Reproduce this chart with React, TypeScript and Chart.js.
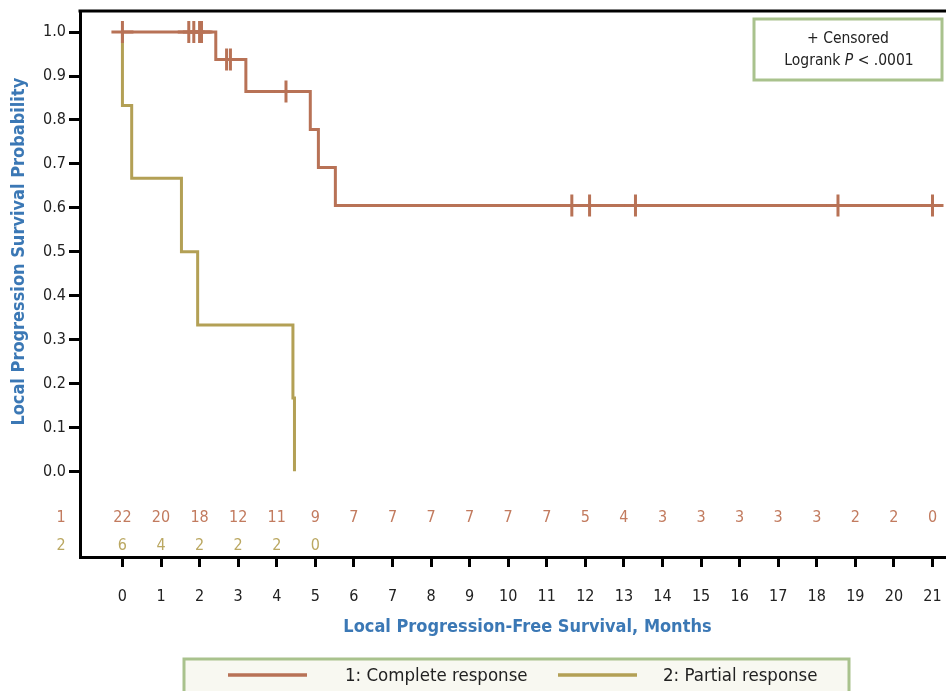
import React, { useEffect, useRef } from "react";
import { Chart, registerables } from "chart.js";

Chart.register(...registerables);

const months = [0, 1, 2, 3, 4, 5, 6, 7, 8, 9, 10, 11, 12, 13, 14, 15, 16, 17, 18, 19, 20, 21];
const yTickValues = [0, 0.1, 0.2, 0.3, 0.4, 0.5, 0.6, 0.7, 0.8, 0.9, 1.0];

const riskComplete = [22, 20, 18, 12, 11, 9, 7, 7, 7, 7, 7, 7, 5, 4, 3, 3, 3, 3, 3, 2, 2, 0];
const riskPartial = [6, 4, 2, 2, 2, 0];

const completeTimes = [0, 2.42, 3.2, 4.87, 5.08, 5.52, 21];
const completeSurv = [1, 0.9375, 0.865, 0.778, 0.692, 0.605, 0.605];

const partialTimes = [0, 0, 0.24, 1.53, 1.95, 4.42, 4.46];
const partialSurv = [1, 0.833, 0.667, 0.5, 0.333, 0.167, 0];

const censorCompleteTimes = [0, 1.72, 1.85, 2.0, 2.05, 2.7, 2.8, 4.24, 11.65, 12.11, 13.3, 18.55, 21];
const censorCompleteSurv = [1, 1, 1, 1, 1, 0.9375, 0.9375, 0.865, 0.605, 0.605, 0.605, 0.605, 0.605];

const seriesNames = ["1: Complete response", "2: Partial response"];
const xTitle = "Local Progression-Free Survival, Months";
const yTitle = "Local Progression Survival Probability";

const CR = "#b87256";
const PR = "#b3a055";
const CR_TEXT = "#c27b5f";
const PR_TEXT = "#bba862";
const BLUE = "#3b78b5";
const GREEN = "#a9c28d";
const FONT = '"DejaVu Sans Condensed", "DejaVu Sans", sans-serif';

const overlayPlugin = {
  id: "overlay",
  afterDraw(chart: any) {
    const { ctx, chartArea, scales } = chart;
    const xs = scales.x;
    const ys = scales.y;
    ctx.save();

    // top frame line
    ctx.strokeStyle = "#000";
    ctx.lineWidth = 3;
    ctx.beginPath();
    ctx.moveTo(chartArea.left - 1.5, chartArea.top);
    ctx.lineTo(chartArea.right, chartArea.top);
    ctx.stroke();

    // number at risk table
    ctx.font = `16px ${FONT}`;
    ctx.textAlign = "center";
    ctx.textBaseline = "middle";
    const yRow1 = 518;
    const yRow2 = 546;
    ctx.fillStyle = CR_TEXT;
    ctx.fillText("1", 61, yRow1);
    riskComplete.forEach((n, i) => {
      ctx.fillText(String(n), xs.getPixelForValue(months[i]), yRow1);
    });
    ctx.fillStyle = PR_TEXT;
    ctx.fillText("2", 61, yRow2);
    riskPartial.forEach((n, i) => {
      ctx.fillText(String(n), xs.getPixelForValue(months[i]), yRow2);
    });

    // axis titles
    ctx.fillStyle = BLUE;
    ctx.font = `bold 18px ${FONT}`;
    const xMid = (xs.getPixelForValue(months[0]) + xs.getPixelForValue(months[months.length - 1])) / 2;
    ctx.fillText(xTitle, xMid, 627);
    const yMid = (ys.getPixelForValue(0) + ys.getPixelForValue(1)) / 2;
    ctx.save();
    ctx.translate(19, yMid);
    ctx.rotate(-Math.PI / 2);
    ctx.fillText(yTitle, 0, 0);
    ctx.restore();

    // censored / logrank box
    ctx.fillStyle = "#ffffff";
    ctx.fillRect(754, 19, 188, 61);
    ctx.strokeStyle = GREEN;
    ctx.lineWidth = 3;
    ctx.strokeRect(754, 19, 188, 61);
    ctx.fillStyle = "#222";
    const bf = 15.5;
    ctx.font = `${bf}px ${FONT}`;
    ctx.textAlign = "center";
    ctx.fillText("+ Censored", 848, 39);
    const p1 = "Logrank ";
    const p2 = "P";
    const p3 = " < .0001";
    const w1 = ctx.measureText(p1).width;
    const w3 = ctx.measureText(p3).width;
    ctx.font = `italic ${bf}px ${FONT}`;
    const w2 = ctx.measureText(p2).width;
    const total = w1 + w2 + w3;
    let sx = 849 - total / 2;
    ctx.textAlign = "left";
    ctx.font = `${bf}px ${FONT}`;
    ctx.fillText(p1, sx, 61);
    sx += w1;
    ctx.font = `italic ${bf}px ${FONT}`;
    ctx.fillText(p2, sx, 61);
    sx += w2;
    ctx.font = `${bf}px ${FONT}`;
    ctx.fillText(p3, sx, 61);

    // legend box
    ctx.fillStyle = "#f8f8f1";
    ctx.fillRect(184, 659, 665, 40);
    ctx.strokeStyle = GREEN;
    ctx.lineWidth = 3;
    ctx.strokeRect(184, 659, 665, 40);
    ctx.lineWidth = 3.5;
    ctx.strokeStyle = CR;
    ctx.beginPath();
    ctx.moveTo(228, 675);
    ctx.lineTo(307, 675);
    ctx.stroke();
    ctx.strokeStyle = PR;
    ctx.beginPath();
    ctx.moveTo(558, 675);
    ctx.lineTo(637, 675);
    ctx.stroke();
    ctx.fillStyle = "#222";
    ctx.font = `18.5px ${FONT}`;
    ctx.textAlign = "left";
    ctx.fillText(seriesNames[0], 345, 676);
    ctx.fillText(seriesNames[1], 663, 676);

    ctx.restore();
  },
};

const zeroPadding = (s: any) => {
  s.paddingLeft = 0;
  s.paddingRight = 0;
  s.paddingTop = 0;
  s.paddingBottom = 0;
};

export default function App() {
  const ref = useRef<HTMLCanvasElement | null>(null);

  useEffect(() => {
    if (!ref.current) return;
    const tickFont = { family: FONT, size: 16 };
    const chart = new Chart(ref.current, {
      type: "scatter",
      data: {
        datasets: [
          {
            label: "censor-complete",
            data: censorCompleteTimes.map((t, i) => ({ x: t, y: censorCompleteSurv[i] })),
            showLine: false,
            pointStyle: "cross",
            pointRadius: 11,
            pointBorderWidth: 3,
            pointBorderColor: CR,
            pointBackgroundColor: CR,
            order: 0,
          },
          {
            label: seriesNames[0],
            data: completeTimes.map((t, i) => ({ x: t, y: completeSurv[i] })),
            showLine: true,
            stepped: true,
            borderColor: CR,
            borderWidth: 3,
            pointRadius: 0,
            fill: false,
            order: 1,
          },
          {
            label: seriesNames[1],
            data: partialTimes.map((t, i) => ({ x: t, y: partialSurv[i] })),
            showLine: true,
            stepped: true,
            borderColor: PR,
            borderWidth: 3,
            pointRadius: 0,
            fill: false,
            order: 2,
          },
        ],
      },
      options: {
        responsive: false,
        animation: false,
        events: [],
        layout: { autoPadding: false, padding: { top: 11, right: 0, left: 0, bottom: 0 } },
        plugins: {
          legend: { display: false },
          tooltip: { enabled: false },
        },
        scales: {
          x: {
            type: "linear",
            min: -1.1,
            max: 21.35,
            afterBuildTicks: (s: any) => {
              s.ticks = months.map((v) => ({ value: v }));
            },
            afterFit: (s: any) => {
              s.height = 691 - 557;
              zeroPadding(s);
            },
            ticks: {
              font: tickFont,
              color: "#222",
              padding: 20,
              autoSkip: false,
              maxRotation: 0,
              callback: (v: any) => String(v),
            },
            grid: {
              drawOnChartArea: false,
              drawTicks: true,
              tickLength: 10,
              tickWidth: 3,
              color: "#000",
            },
            border: { display: true, color: "#000", width: 3 },
          },
          y: {
            type: "linear",
            min: -0.195,
            max: 1.048,
            afterBuildTicks: (s: any) => {
              s.ticks = yTickValues.map((v) => ({ value: v }));
            },
            afterFit: (s: any) => {
              s.width = 80;
              zeroPadding(s);
            },
            ticks: {
              font: tickFont,
              color: "#222",
              padding: 3,
              callback: (v: any) => Number(v).toFixed(1),
            },
            grid: {
              drawOnChartArea: false,
              drawTicks: true,
              tickLength: 11,
              tickWidth: 3,
              color: "#000",
            },
            border: { display: true, color: "#000", width: 3 },
          },
        },
      },
      plugins: [overlayPlugin],
    });
    return () => chart.destroy();
  }, []);

  return (
    <div style={{ position: "fixed", left: 0, top: 0, width: 946, height: 691, background: "#fff" }}>
      <canvas ref={ref} width={946} height={691} style={{ display: "block", width: 946, height: 691 }} />
    </div>
  );
}
